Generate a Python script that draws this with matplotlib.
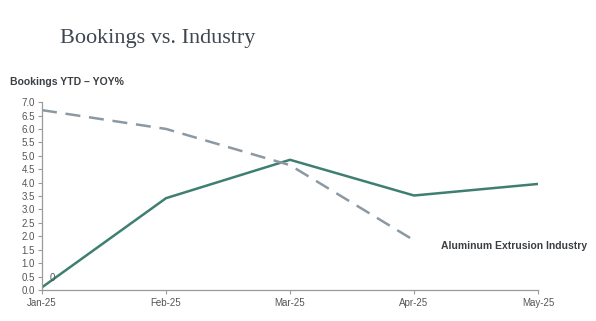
import matplotlib
matplotlib.use("Agg")
import matplotlib.pyplot as plt

months = ["Jan-25", "Feb-25", "Mar-25", "Apr-25", "May-25"]
bookings = [0.1, 3.42, 4.85, 3.52, 3.95]
industry = [6.7, 6.0, 4.65, 1.85]
yticks = [i * 0.5 for i in range(15)]

green = "#3f7f71"
gray = "#8c99a3"
txt = "#3a3f44"

fig = plt.figure(figsize=(5.96, 3.21), dpi=100)
ax = fig.add_axes([0.0705, 0.0966, 0.8322, 0.5854])

x = list(range(len(months)))
ax.plot(x, bookings, color=green, lw=1.8)
ax.plot(x[:len(industry)], industry, color=gray, lw=1.8, dashes=(6, 3.5))

ax.set_xlim(0, 4)
ax.set_ylim(0, 7)
ax.set_yticks(yticks)
ax.set_yticklabels([f"{v:.1f}" for v in yticks], fontsize=7, color="#555555", family="Liberation Sans")
ax.set_xticks(x)
ax.set_xticklabels(months, fontsize=7, color="#555555", family="Liberation Sans")
for s in ["top", "right"]:
    ax.spines[s].set_visible(False)
for s in ["left", "bottom"]:
    ax.spines[s].set_color("#9a9a9a")
    ax.spines[s].set_linewidth(0.9)
ax.tick_params(axis="y", length=3, color="#9a9a9a", pad=2)
ax.tick_params(axis="x", length=3, color="#9a9a9a", pad=3)

ax.text(0.06, 0.45, "0", fontsize=7, color="#555555", family="Liberation Sans", va="center")
ax.text(3.22, 1.65, "Aluminum Extrusion Industry", fontsize=7.5, fontweight="bold",
        color=txt, family="Liberation Sans", va="center")

fig.text(60 / 596, 1 - 38 / 321, "Bookings vs. Industry", fontsize=16, color="#3e4750",
         family="Liberation Serif", va="center", ha="left")
fig.text(10 / 596, 1 - 82 / 321, "Bookings YTD \u2013 YOY%", fontsize=7.5, fontweight="bold",
         color=txt, family="Liberation Sans", va="center", ha="left")

fig.savefig("out.png", dpi=100)
